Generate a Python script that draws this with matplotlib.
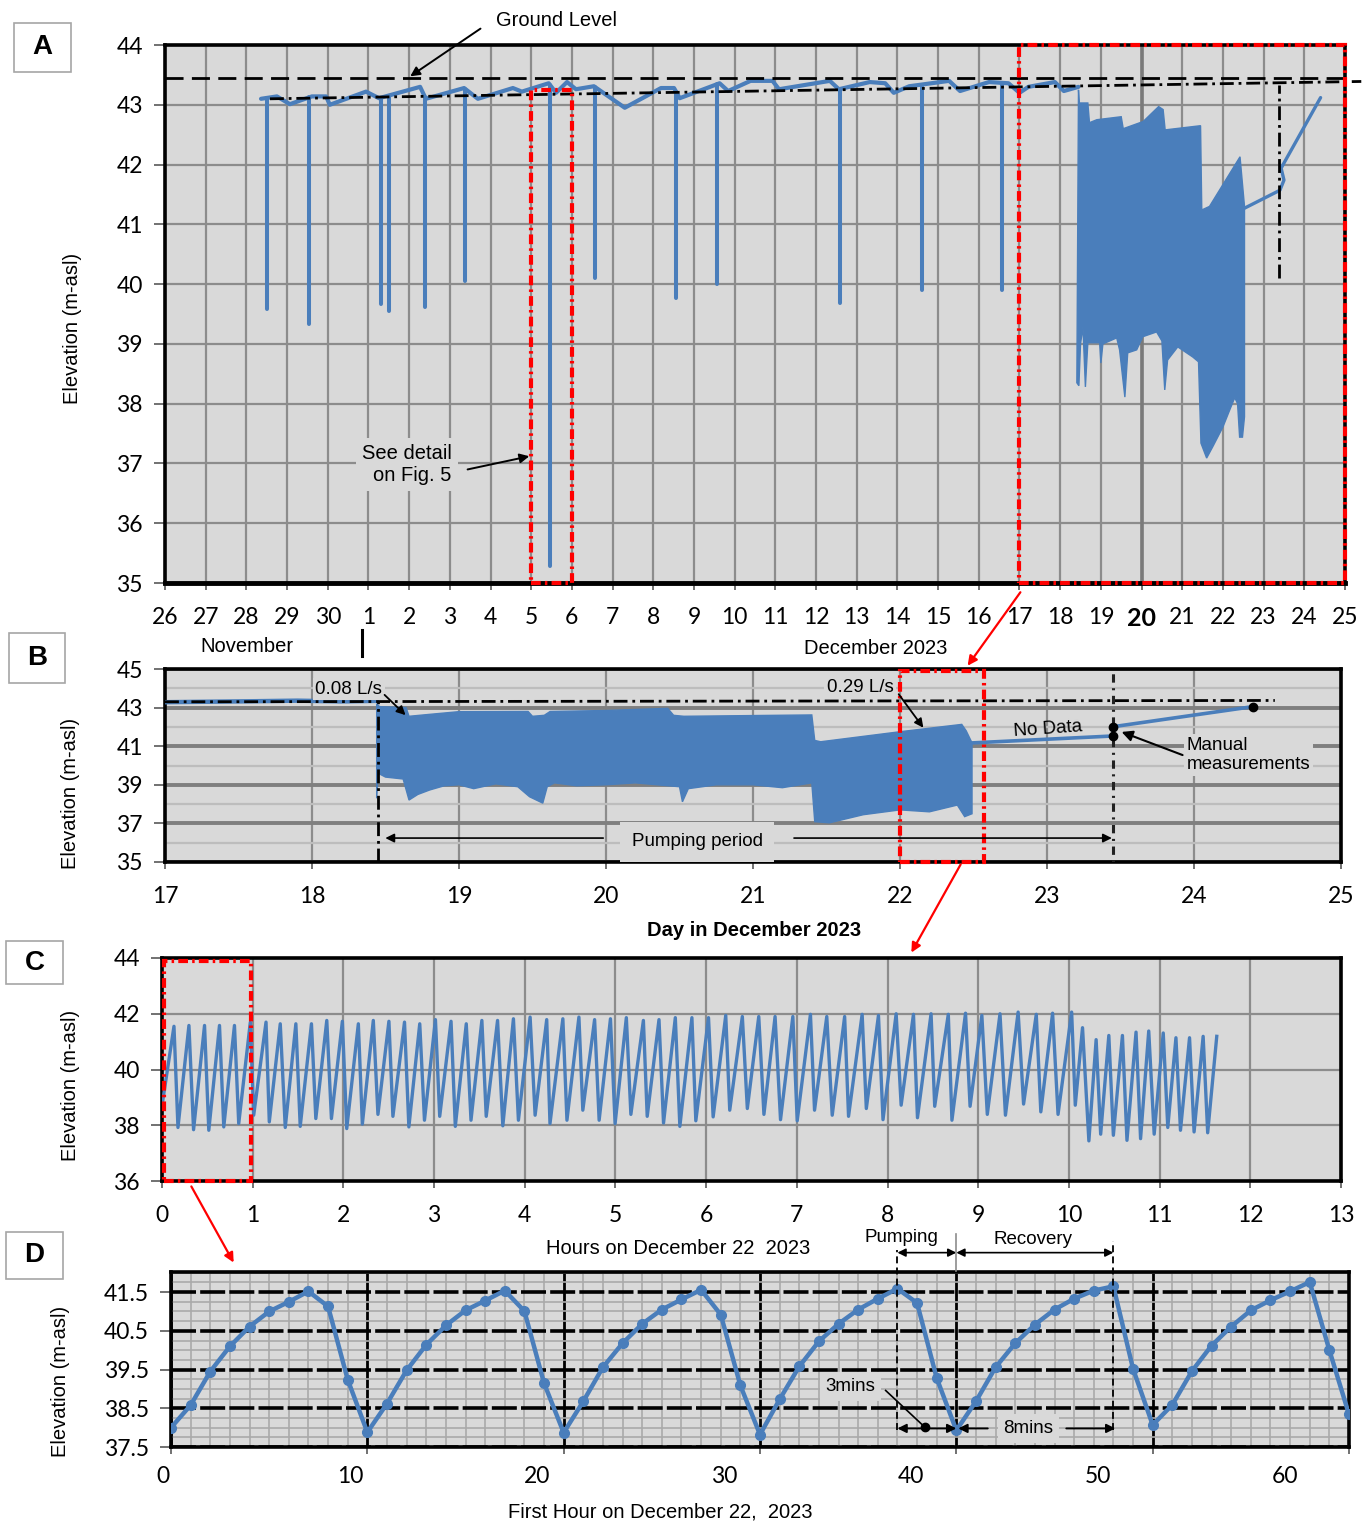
import numpy as np
import matplotlib
matplotlib.use('Agg')
import matplotlib.pyplot as plt
from matplotlib.patches import Rectangle, FancyArrowPatch
from matplotlib.lines import Line2D

plt.rcParams['font.family'] = ['Liberation Sans', 'DejaVu Sans']
plt.rcParams['lines.scale_dashes'] = False
TICKFONT = ['Lato', 'DejaVu Sans']

# ---------------- DATA ----------------
# Panel A : x = days since 26 November 2023
a_xtick_labels = ['26', '27', '28', '29', '30', '1', '2', '3', '4', '5', '6', '7', '8', '9', '10',
                  '11', '12', '13', '14', '15', '16', '17', '18', '19', '20', '21', '22', '23', '24', '25']
a_yticks = [35, 36, 37, 38, 39, 40, 41, 42, 43, 44]
a_base_day = [2.36, 2.75, 3.07, 3.61, 3.96, 4.05, 4.94, 5.26, 6.27, 6.41, 7.35, 7.69, 8.55, 8.77, 9.43,
              9.61, 9.88, 10.10, 10.54, 11.30, 12.19, 12.51, 12.65, 13.63, 13.84, 14.39, 14.93, 15.09,
              16.34, 16.56, 17.32, 17.70, 17.91, 18.29, 19.27, 19.54, 20.25, 20.73, 21.00, 21.22, 21.87,
              22.09, 22.45]
a_base_elev = [43.10, 43.14, 43.01, 43.14, 43.14, 43.00, 43.22, 43.11, 43.30, 43.10, 43.28, 43.10, 43.28,
               43.22, 43.36, 43.20, 43.38, 43.26, 43.31, 42.95, 43.28, 43.28, 43.11, 43.36, 43.23, 43.40,
               43.40, 43.26, 43.40, 43.26, 43.38, 43.36, 43.20, 43.31, 43.40, 43.23, 43.38, 43.36, 43.20,
               43.30, 43.38, 43.23, 43.30]
a_spike_day = [2.51, 3.54, 5.31, 5.50, 6.39, 7.37, 9.46, 10.57, 12.56, 13.57, 16.59, 18.60, 20.57]
a_spike_low = [39.59, 39.33, 39.67, 39.55, 39.62, 40.05, 35.29, 40.10, 39.77, 40.00, 39.69, 39.90, 39.90]
a_pump_top_day = [22.45, 22.47, 22.68, 22.72, 22.90, 23.50, 23.55, 24.04, 24.42, 24.53, 24.58, 25.45,
                  25.48, 25.67, 26.42, 26.53]
a_pump_top_elev = [43.25, 43.03, 43.03, 42.70, 42.75, 42.80, 42.60, 42.72, 42.97, 42.92, 42.58, 42.65,
                   41.24, 41.30, 42.13, 41.30]
a_pump_bot_day = [22.41, 22.46, 22.50, 22.56, 22.62, 22.68, 22.97, 23.00, 23.05, 23.39, 23.46, 23.59,
                  23.66, 23.88, 24.03, 24.37, 24.50, 24.57, 24.64, 24.89, 25.26, 25.40, 25.46, 25.60,
                  25.75, 26.00, 26.17, 26.29, 26.36, 26.41, 26.48, 26.53]
a_pump_bot_elev = [38.35, 38.30, 39.00, 39.28, 38.28, 39.02, 39.02, 38.68, 39.00, 39.10, 38.90, 38.11,
                   38.85, 38.90, 39.12, 39.20, 39.05, 38.23, 38.73, 38.95, 38.78, 38.70, 37.34, 37.09,
                   37.28, 37.61, 37.90, 38.10, 38.00, 37.44, 37.44, 37.78]
a_after_day = [26.53, 27.40, 27.50, 27.43, 28.40]
a_after_elev = [41.27, 41.57, 41.74, 41.94, 43.12]
a_ground_level = 43.45
a_trend_day = [2.58, 29.40]
a_trend_elev = [43.10, 43.39]

# Panel B : x = day in December 2023
b_xticks = [17, 18, 19, 20, 21, 22, 23, 24, 25]
b_yticks = [35, 37, 39, 41, 43, 45]
b_pre_day = [17.00, 17.60, 17.90, 18.20, 18.44]
b_pre_elev = [43.28, 43.33, 43.36, 43.32, 43.35]
b_top_day = [18.44, 18.46, 18.64, 18.66, 18.80, 19.00, 19.47, 19.50, 19.58, 19.62, 20.00, 20.42, 20.46,
             20.53, 21.40, 21.42, 21.46, 22.00, 22.42, 22.45, 22.49]
b_top_elev = [43.20, 43.05, 43.00, 42.55, 42.65, 42.79, 42.80, 42.55, 42.60, 42.80, 42.85, 42.96, 42.60,
              42.55, 42.62, 41.30, 41.23, 41.75, 42.13, 41.80, 41.17]
b_bot_day = [18.44, 18.45, 18.50, 18.62, 18.66, 18.72, 18.80, 18.90, 19.00, 19.10, 19.25, 19.40, 19.48,
             19.57, 19.60, 19.65, 19.80, 20.00, 20.20, 20.50, 20.52, 20.56, 20.75, 21.00, 21.20, 21.40,
             21.42, 21.52, 21.75, 22.00, 22.20, 22.39, 22.44, 22.49]
b_bot_elev = [38.30, 39.60, 39.40, 39.30, 38.21, 38.50, 38.73, 38.95, 39.00, 38.80, 39.05, 38.90, 38.38,
              38.05, 38.90, 39.10, 38.95, 39.00, 39.10, 38.90, 38.12, 38.80, 39.00, 39.00, 38.85, 39.10,
              37.09, 37.03, 37.45, 37.70, 37.60, 37.95, 37.35, 37.50]
b_nodata_day = [22.49, 23.45]
b_nodata_elev = [41.17, 41.53]
b_manual_day = [23.45, 23.45, 24.40]
b_manual_elev = [41.53, 42.01, 43.05]
b_trend_day = [17.00, 24.55]
b_trend_elev = [43.30, 43.37]
b_pump_start = 18.45
b_pump_end = 23.45

# Panel C : x = hours on 22 December 2023
c_xticks = [0, 1, 2, 3, 4, 5, 6, 7, 8, 9, 10, 11, 12, 13]
c_yticks = [36, 38, 40, 42, 44]
c_start_hour = 0.0
c_start_elev = 38.7
c_peak_hour = [0.132, 0.297, 0.469, 0.634, 0.799, 0.974, 1.147, 1.304, 1.476, 1.648, 1.817, 1.989, 2.165,
               2.330, 2.502, 2.674, 2.842, 3.015, 3.187, 3.355, 3.527, 3.700, 3.875, 4.059, 4.242,
               4.420, 4.597, 4.770, 4.945, 5.120, 5.308, 5.480, 5.660, 5.843, 6.026, 6.216, 6.399, 6.580,
               6.760, 6.956, 7.150, 7.330, 7.527, 7.720, 7.900, 8.095, 8.286, 8.480,
               8.67, 8.86, 9.04, 9.24, 9.44, 9.64, 9.82, 10.03, 10.15, 10.30, 10.44, 10.59, 10.74, 10.88,
               11.04, 11.18, 11.33, 11.48, 11.63]
c_peak_elev = [41.55, 41.58, 41.58, 41.58, 41.58, 41.70, 41.70, 41.64, 41.64, 41.64, 41.76, 41.73, 41.64,
               41.76, 41.73, 41.70, 41.64, 41.79, 41.73, 41.64, 41.76, 41.76, 41.82, 41.88, 41.79,
               41.82, 41.88, 41.79, 41.82, 41.86, 41.76, 41.79, 41.86, 41.86, 41.86, 41.94, 41.90, 41.90,
               41.90, 41.90, 41.98, 41.90, 41.90, 41.98, 41.94, 42.00, 41.98, 42.00,
               41.98, 42.02, 41.94, 42.00, 42.06, 41.98, 42.02, 42.06, 41.50, 41.07, 41.22, 41.22, 41.34,
               41.38, 41.31, 41.14, 41.14, 41.19, 41.19]
c_trough_hour = [0.176, 0.348, 0.516, 0.681, 0.846, 1.011, 1.183, 1.359, 1.524, 1.696, 1.868, 2.037, 2.209,
                 2.381, 2.546, 2.722, 2.894, 3.062, 3.234, 3.407, 3.575, 3.758, 3.930, 4.114, 4.278,
                 4.465, 4.640, 4.820, 4.996, 5.170, 5.350, 5.530, 5.710, 5.886, 6.077, 6.260, 6.454, 6.637,
                 6.820, 7.004, 7.195, 7.390, 7.570, 7.766, 7.950, 8.150, 8.330, 8.520,
                 8.71, 8.91, 9.10, 9.30, 9.50, 9.69, 9.88, 10.07, 10.22, 10.35, 10.49, 10.64, 10.79, 10.94,
                 11.09, 11.23, 11.38, 11.53]
c_trough_elev = [37.92, 37.84, 37.82, 37.94, 38.06, 38.36, 38.12, 37.92, 37.96, 38.24, 38.24, 37.88, 38.04,
                 38.39, 38.32, 37.94, 38.18, 38.32, 37.96, 38.18, 38.32, 37.98, 38.18, 38.36, 38.06,
                 38.18, 38.54, 38.18, 38.06, 38.39, 38.32, 38.08, 37.96, 38.16, 38.30, 38.54, 38.60, 38.39,
                 38.20, 38.16, 38.54, 38.36, 38.32, 38.60, 38.20, 38.72, 38.27, 38.68,
                 38.18, 38.68, 38.39, 38.36, 38.76, 38.48, 38.39, 38.72, 37.44, 37.68, 37.64, 37.46, 37.52,
                 37.68, 37.92, 37.82, 37.76, 37.73]

# Panel D : x = minutes of the first hour on 22 December 2023
d_minute = [0, 1, 2, 3, 4, 5, 6, 7, 8, 9, 10, 11, 12, 13, 14, 15, 16, 17, 18, 19, 20,
            21, 22, 23, 24, 25, 26, 27, 28, 29, 30, 31, 32, 33, 34, 35, 36, 37, 38, 39, 40,
            41, 42, 43, 44, 45, 46, 47, 48, 49, 50, 51, 52, 53, 54, 55, 56, 57, 58, 59, 60]
d_elev = [38.00, 38.58, 39.45, 40.10, 40.61, 41.00, 41.25, 41.52, 41.13, 39.24, 37.88,
          38.62, 39.48, 40.14, 40.64, 41.03, 41.28, 41.54, 41.01, 39.15, 37.87,
          38.68, 39.56, 40.18, 40.68, 41.05, 41.31, 41.56, 40.92, 39.09, 37.82,
          38.73, 39.58, 40.23, 40.68, 41.05, 41.33, 41.59, 41.22, 39.28, 37.93,
          38.68, 39.56, 40.18, 40.66, 41.05, 41.33, 41.54, 41.65, 39.52, 38.07,
          38.59, 39.46, 40.12, 40.61, 41.03, 41.29, 41.52, 41.76, 40.00, 38.34]
d_xtick_labels = ['0', '10', '20', '30', '40', '50', '60']
d_xtick_values = [0, 10, 20, 30, 40, 50, 60]
d_yticks = [37.5, 38.5, 39.5, 40.5, 41.5]

# ---------------- FIGURE ----------------
W, H = 1372, 1532
fig = plt.figure(figsize=(W / 100, H / 100), dpi=100)

BLUE = '#4a7ebb'
BG = '#d9d9d9'
GRID = '#8c8c8c'
RED = '#ff0000'
RED_DD = (0, (7, 3, 1.8, 3))
BLK_DD = (0, (10, 3.5, 2, 3.5))
TICKSIZE = 16.5


def fx(x):
    return x / W


def fy(y):
    return 1 - y / H


def axrect(l, t, r, b):
    return [l / W, 1 - b / H, (r - l) / W, (b - t) / H]


def style_axes(ax, lw=2.6):
    ax.set_facecolor(BG)
    for s in ax.spines.values():
        s.set_linewidth(lw)
        s.set_color('black')
    ax.set_axisbelow(True)
    ax.tick_params(axis='both', which='major', labelsize=TICKSIZE, color='#595959', width=1.2)
    ax.tick_params(axis='x', which='major', length=5, pad=12)
    ax.tick_params(axis='y', which='major', length=8, pad=8)


def tickfont(ax):
    for lbl in ax.get_xticklabels() + ax.get_yticklabels():
        lbl.set_fontfamily(TICKFONT)


def fig_arrow(p0, p1, color='red', lw=1.6, style='-|>', ms=14):
    fig.add_artist(FancyArrowPatch((fx(p0[0]), fy(p0[1])), (fx(p1[0]), fy(p1[1])),
                                   transform=fig.transFigure, arrowstyle=style,
                                   mutation_scale=ms, color=color, lw=lw))


def panel_letter(letter, l, t, r, b):
    fig.add_artist(Rectangle((fx(l), fy(b)), (r - l) / W, (b - t) / H, transform=fig.transFigure,
                             facecolor='white', edgecolor='#a6a6a6', lw=1.2))
    fig.text(fx((l + r) / 2), fy((t + b) / 2), letter, ha='center', va='center',
             fontsize=20, fontweight='bold', family=['Liberation Sans', 'DejaVu Sans'])


# ================= PANEL A =================
axA = fig.add_axes(axrect(165, 45, 1345, 583))
style_axes(axA)
axA.spines['bottom'].set_linewidth(3.5)
axA.set_xlim(0, 29)
axA.set_ylim(35, 44)
axA.set_xticks(range(len(a_xtick_labels)))
axA.set_xticklabels(a_xtick_labels)
axA.set_yticks(a_yticks)
axA.grid(True, color=GRID, lw=1.6)
tickfont(axA)
axA.get_xticklabels()[24].set_fontweight('bold')
axA.get_xticklabels()[24].set_fontsize(TICKSIZE + 1.5)
axA.axvline(24, color='#7a7a7a', lw=2.6, zorder=0.6)

axA.plot(a_base_day, a_base_elev, color=BLUE, lw=3.0, solid_capstyle='round',
         solid_joinstyle='round', zorder=3)
spike_top = np.interp(a_spike_day, a_base_day, a_base_elev)
axA.vlines(a_spike_day, a_spike_low, spike_top, color=BLUE, lw=2.9, capstyle='round', zorder=3)
axA.fill(np.concatenate([a_pump_top_day, a_pump_bot_day[::-1]]),
         np.concatenate([a_pump_top_elev, a_pump_bot_elev[::-1]]),
         facecolor=BLUE, edgecolor=BLUE, lw=1.0, zorder=3)
axA.plot(a_after_day, a_after_elev, color=BLUE, lw=2.4, solid_capstyle='round', zorder=3)

axA.plot([0, 29], [a_ground_level, a_ground_level], color='black', lw=2.0,
         linestyle=(0, (13, 6)), zorder=4)
axA.plot(a_trend_day, a_trend_elev, color='black', lw=2.0, linestyle=BLK_DD, zorder=4, clip_on=False)
axA.plot([27.37, 27.37], [40.1, 43.33], color='black', lw=2.0, linestyle=BLK_DD, zorder=4)

axA.add_patch(Rectangle((9, 35), 1, 8.25, fill=False, edgecolor=RED, lw=3, linestyle=RED_DD,
                        zorder=5, clip_on=False))
axA.add_patch(Rectangle((21, 35), 8, 9, fill=False, edgecolor=RED, lw=3, linestyle=RED_DD,
                        zorder=5, clip_on=False))

axA.annotate('', xy=(5.97, 43.45), xytext=(7.81, 44.30), annotation_clip=False,
             arrowprops=dict(arrowstyle='-|>', color='black', lw=1.4, mutation_scale=14))
fig.text(fx(556), fy(20), 'Ground Level', ha='center', va='center', fontsize=14.5)
axA.text(7.05, 36.98, 'See detail\non Fig. 5', ha='right', va='center', fontsize=14.5,
         multialignment='right', zorder=6,
         bbox=dict(boxstyle='square,pad=0.3', facecolor=BG, edgecolor='none'))
axA.annotate('', xy=(9.02, 37.13), xytext=(7.37, 36.89), annotation_clip=False, zorder=6,
             arrowprops=dict(arrowstyle='-|>', color='black', lw=1.4, mutation_scale=14))

fig.text(fx(247), fy(647), 'November', ha='center', va='center', fontsize=14.5)
fig.text(fx(876), fy(649), 'December 2023', ha='center', va='center', fontsize=14.5)
fig.add_artist(Line2D([fx(362), fx(362)], [fy(630), fy(656)], color='black', lw=2.2,
                      transform=fig.transFigure))

# ================= PANEL B =================
axB = fig.add_axes(axrect(165, 669, 1341, 862))
style_axes(axB)
axB.set_xlim(17, 25)
axB.set_ylim(35, 45)
axB.set_xticks(b_xticks)
axB.set_yticks(b_yticks)
axB.set_yticks([36, 38, 40, 42, 44], minor=True)
axB.tick_params(axis='y', which='minor', length=0)
axB.grid(True, axis='x', color=GRID, lw=1.6)
axB.grid(True, axis='y', which='major', color='#7f7f7f', lw=2.8)
axB.grid(True, axis='y', which='minor', color='#bdbdbd', lw=1.6)
tickfont(axB)

axB.plot(b_pre_day, b_pre_elev, color=BLUE, lw=3.2, zorder=3)
axB.fill(np.concatenate([b_top_day, b_bot_day[::-1]]),
         np.concatenate([b_top_elev, b_bot_elev[::-1]]),
         facecolor=BLUE, edgecolor=BLUE, lw=1.0, zorder=3)
axB.plot(b_nodata_day, b_nodata_elev, color=BLUE, lw=2.6, zorder=3)
axB.plot(b_manual_day, b_manual_elev, color=BLUE, lw=2.6, zorder=3)
axB.plot(b_manual_day, b_manual_elev, 'o', color='black', ms=6, zorder=6)
axB.plot(b_trend_day, b_trend_elev, color='black', lw=2.0, linestyle=BLK_DD, zorder=4)
axB.plot([b_pump_start, b_pump_start], [35, 43.3], color='black', lw=2.0, linestyle=BLK_DD, zorder=4)
axB.plot([b_pump_end, b_pump_end], [35, 45], color='#222222', lw=2.2,
         linestyle=(0, (1.5, 4, 6, 4)), zorder=4)

axB.add_patch(Rectangle((22.0, 35), 0.57, 9.9, fill=False, edgecolor=RED, lw=3, linestyle=RED_DD,
                        zorder=5, clip_on=False))

axB.text(18.25, 43.96, '0.08 L/s', ha='center', va='center', fontsize=13.5, zorder=6,
         bbox=dict(boxstyle='square,pad=0.15', facecolor=BG, edgecolor='none'))
axB.annotate('', xy=(18.65, 42.51), xytext=(18.48, 43.76), zorder=6,
             arrowprops=dict(arrowstyle='-|>', color='black', lw=1.3, mutation_scale=13))
axB.text(21.73, 44.02, '0.29 L/s', ha='center', va='center', fontsize=13.5, zorder=6,
         bbox=dict(boxstyle='square,pad=0.15', facecolor=BG, edgecolor='none'))
axB.annotate('', xy=(22.17, 41.84), xytext=(21.98, 43.81), zorder=6,
             arrowprops=dict(arrowstyle='-|>', color='black', lw=1.3, mutation_scale=13))
axB.text(23.01, 41.89, 'No Data', ha='center', va='center', fontsize=13.5, rotation=4, zorder=6)
axB.text(23.95, 40.54, 'Manual\nmeasurements', ha='left', va='center', fontsize=13.5, zorder=6,
         linespacing=1.15, bbox=dict(boxstyle='square,pad=0.15', facecolor=BG, edgecolor='none'))
axB.annotate('', xy=(23.49, 41.79), xytext=(23.94, 40.49), zorder=6,
             arrowprops=dict(arrowstyle='-|>', color='black', lw=1.5, mutation_scale=16))
axB.text(20.62, 36.04, 'Pumping period', ha='center', va='center', fontsize=13.5, zorder=6,
         bbox=dict(boxstyle='square,pad=0.6', facecolor=BG, edgecolor='none'))
axB.annotate('', xy=(18.48, 36.24), xytext=(20.0, 36.24), zorder=6,
             arrowprops=dict(arrowstyle='-|>', color='black', lw=1.2, mutation_scale=13))
axB.annotate('', xy=(23.46, 36.24), xytext=(21.26, 36.24), zorder=6,
             arrowprops=dict(arrowstyle='-|>', color='black', lw=1.2, mutation_scale=13))
fig.text(fx(754), fy(931), 'Day in December 2023', ha='center', va='center', fontsize=14.5,
         fontweight='bold')

# ================= PANEL C =================
axC = fig.add_axes(axrect(162, 958, 1341, 1181))
style_axes(axC)
axC.set_xlim(0, 13)
axC.set_ylim(36, 44)
axC.set_xticks(c_xticks)
axC.set_yticks(c_yticks)
axC.grid(True, color=GRID, lw=1.6)
tickfont(axC)

c_t = np.concatenate([[c_start_hour], c_peak_hour, c_trough_hour])
c_e = np.concatenate([[c_start_elev], c_peak_elev, c_trough_elev])
order = np.argsort(c_t)
axC.plot(c_t[order], c_e[order], color=BLUE, lw=2.4, solid_joinstyle='round', zorder=3)
axC.add_patch(Rectangle((0.02, 36), 0.96, 7.88, fill=False, edgecolor=RED, lw=3, linestyle=RED_DD,
                        zorder=5, clip_on=False))
fig.text(fx(678), fy(1248), 'Hours on December 22  2023', ha='center', va='center', fontsize=14.5)

# ================= PANEL D =================
axD = fig.add_axes(axrect(171, 1272, 1349, 1447))
style_axes(axD)
axD.set_xlim(0, 60)
axD.set_ylim(37.5, 42.02)
axD.set_xticks(d_xtick_values)
axD.set_xticklabels([''] * len(d_xtick_values))
axD.set_xticks(np.arange(0, 61, 1), minor=True)
axD.set_yticks(d_yticks)
axD.set_yticks(np.arange(37.5, 42.01, 0.25), minor=True)
axD.tick_params(which='minor', length=0)
axD.tick_params(axis='x', which='major', length=5)
axD.grid(True, which='minor', color='#a9a9a9', lw=1.2)
axD.grid(True, which='major', axis='x', color='black', lw=2.0)
axD.grid(True, which='major', axis='y', color='black', lw=2.6, linestyle=(0, (18, 3)))
tickfont(axD)
for L, v in zip(d_xtick_labels, d_xtick_values):
    axD.text(-0.4 + 0.952 * v, -0.166, L, transform=axD.get_xaxis_transform(), ha='center',
             va='center', fontsize=TICKSIZE, family=TICKFONT)

axD.plot(d_minute, d_elev, color=BLUE, lw=3.2, marker='o', ms=7, solid_joinstyle='round', zorder=3)

axD.plot([37, 37], [37.93, 42.58], color='black', lw=1.3, linestyle=(0, (5, 3)), clip_on=False, zorder=6)
axD.plot([48, 48], [37.93, 42.83], color='black', lw=1.3, linestyle=(0, (5, 3)), clip_on=False, zorder=6)
axD.plot([40, 40], [42.05, 43.0], color='#8c8c8c', lw=1.2, clip_on=False, zorder=6)
axD.annotate('', xy=(37, 42.52), xytext=(40, 42.52), annotation_clip=False,
             arrowprops=dict(arrowstyle='<|-|>', color='black', lw=1.2, mutation_scale=12,
                             shrinkA=0, shrinkB=0))
axD.annotate('', xy=(40, 42.52), xytext=(48, 42.52), annotation_clip=False,
             arrowprops=dict(arrowstyle='<|-|>', color='black', lw=1.2, mutation_scale=12,
                             shrinkA=0, shrinkB=0))
fig.text(fx(901), fy(1237), 'Pumping', ha='center', va='center', fontsize=13.5)
fig.text(fx(1033), fy(1239), 'Recovery', ha='center', va='center', fontsize=13.5)

axD.text(34.6, 39.06, '3mins', ha='center', va='center', fontsize=13.5, zorder=6,
         bbox=dict(boxstyle='square,pad=0.3', facecolor=BG, edgecolor='none'))
axD.plot([36.4, 38.4], [38.96, 38.01], color='black', lw=1.2, zorder=6)
axD.plot([38.4], [38.01], 'o', color='black', ms=6, zorder=7)
axD.annotate('', xy=(37, 37.98), xytext=(40, 37.98),
             arrowprops=dict(arrowstyle='<|-|>', color='black', lw=1.4, mutation_scale=13,
                             shrinkA=0, shrinkB=0), zorder=6)
axD.text(43.66, 37.98, '8mins', ha='center', va='center', fontsize=13.5, zorder=6,
         bbox=dict(boxstyle='square,pad=0.3', facecolor=BG, edgecolor='none'))
axD.annotate('', xy=(40.1, 37.98), xytext=(41.6, 37.98), zorder=6,
             arrowprops=dict(arrowstyle='-|>', color='black', lw=1.4, mutation_scale=13,
                             shrinkA=0, shrinkB=0))
axD.annotate('', xy=(48.1, 37.98), xytext=(45.6, 37.98), zorder=6,
             arrowprops=dict(arrowstyle='-|>', color='black', lw=1.4, mutation_scale=13,
                             shrinkA=0, shrinkB=0))
fig.text(fx(660), fy(1512), 'First Hour on December 22,  2023', ha='center', va='center', fontsize=14.5)

# ================= common labels =================
for (xl, yc) in [(72, 328), (71, 793), (70, 1085), (61, 1381)]:
    fig.text(fx(xl), fy(yc), 'Elevation (m-asl)', rotation=90, ha='center', va='center', fontsize=14.5)

panel_letter('A', 14, 23, 71, 72)
panel_letter('B', 9, 633, 65, 683)
panel_letter('C', 6, 941, 63, 984)
panel_letter('D', 6, 1232, 63, 1279)

fig_arrow((1022, 590), (966, 668))
fig_arrow((962, 862), (910, 955))
fig_arrow((190, 1184), (235, 1265))

fig.savefig('out.png', dpi=100, facecolor='white')
